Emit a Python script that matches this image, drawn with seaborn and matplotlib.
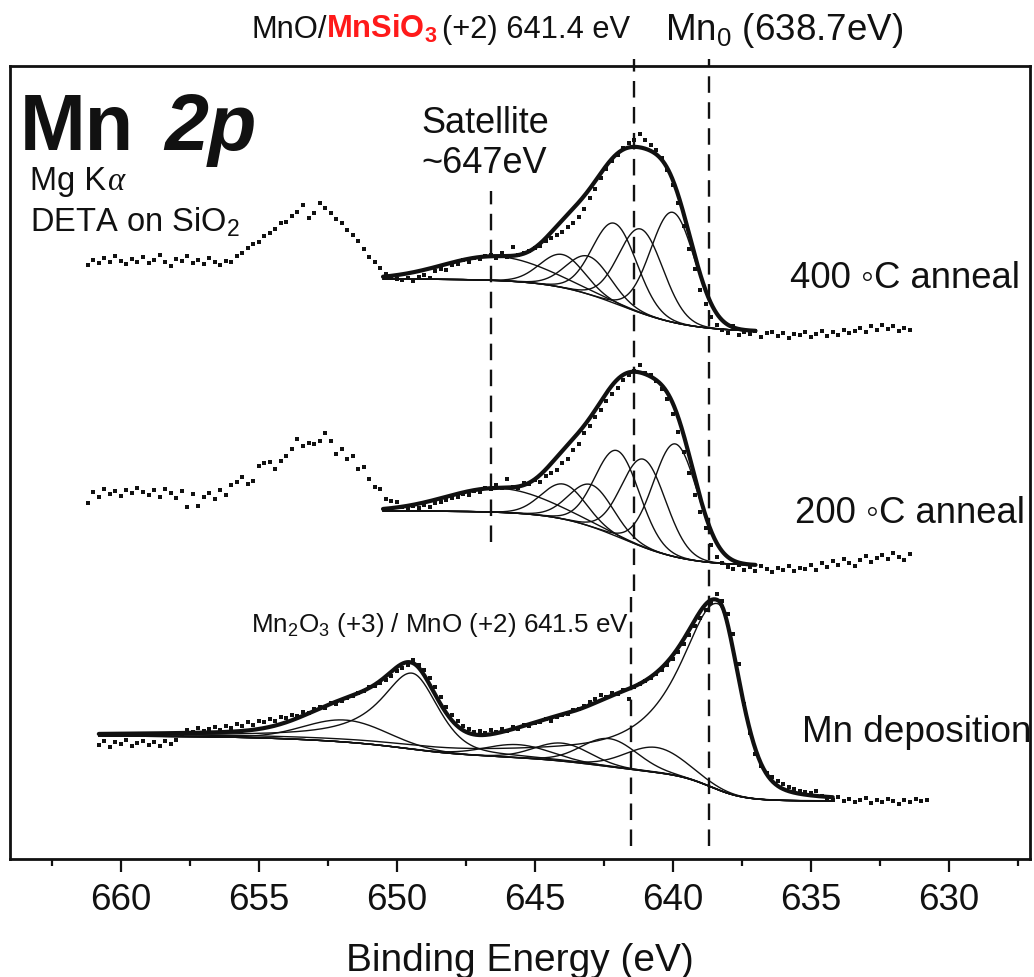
import numpy as np
import matplotlib
matplotlib.use("Agg")
import matplotlib.pyplot as plt
import seaborn as sns

# ------------------------------------------------------------------ spectra
# Mn 2p region, 0.2 eV channels, intensity in arbitrary units
# (each spectrum already includes its vertical stacking offset)
anneal_start = 661.2   # first channel of the annealed spectra (eV)
dep_start = 660.8      # first channel of the as-deposited spectrum (eV)
e_step = 0.2

counts_400C = [
    594, 599, 596, 601, 597, 603, 598, 595, 600, 597,
    602, 596, 599, 604, 597, 593, 600, 598, 603, 596,
    599, 595, 601, 597, 594, 598, 597, 603, 606, 611,
    615, 617, 623, 626, 630, 636, 637, 643, 647, 654,
    641, 646, 656, 651, 646, 640, 636, 629, 624, 618,
    610, 602, 597, 591, 585, 582, 580, 579, 581, 578,
    582, 584, 581, 588, 590, 589, 594, 595, 599, 597,
    601, 600, 603, 604, 601, 606, 602, 612, 604, 606,
    608, 611, 613, 618, 621, 624, 627, 632, 636, 642,
    650, 661, 670, 681, 690, 698, 704, 711, 716, 719,
    725, 719, 714, 709, 701, 689, 674, 656, 633, 610,
    590, 569, 555, 542, 534, 529, 526, 533, 524, 527,
    525, 528, 522, 526, 527, 523, 526, 521, 525, 524,
    527, 522, 525, 528, 523, 527, 524, 529, 526, 528,
    531, 527, 533, 529, 534, 530, 533, 528, 531, 529,
]

counts_200C = [
    356, 367, 362, 370, 365, 368, 363, 369, 366, 371,
    367, 364, 369, 362, 370, 366, 361, 368, 352, 365,
    353, 362, 366, 360, 369, 364, 374, 377, 382, 375,
    378, 393, 396, 397, 390, 398, 403, 410, 420, 413,
    416, 415, 418, 426, 418, 405, 410, 400, 403, 390,
    392, 380, 372, 370, 360, 358, 357, 352, 350, 353,
    351, 354, 352, 356, 357, 359, 361, 362, 365, 364,
    368, 367, 371, 370, 374, 371, 380, 372, 371, 376,
    375, 379, 377, 383, 386, 389, 396, 400, 409, 415,
    426, 433, 442, 449, 458, 465, 471, 479, 484, 488,
    494, 486, 484, 478, 470, 460, 445, 427, 407, 386,
    364, 347, 331, 314, 302, 296, 292, 290, 294, 289,
    292, 288, 293, 290, 287, 291, 289, 293, 288, 291,
    290, 294, 289, 296, 292, 298, 294, 300, 296, 293,
    299, 303, 297, 301, 304, 300, 306, 302, 299, 305,
]

counts_dep = [
    114, 118, 112, 117, 115, 119, 113, 116, 118, 114,
    117, 113, 118, 115, 119, 124, 129, 127, 131, 128,
    130, 132, 129, 133, 131, 135, 133, 137, 134, 138,
    137, 140, 138, 142, 141, 144, 143, 147, 146, 150,
    152, 151, 156, 155, 158, 161, 163, 166, 168, 172,
    173, 176, 179, 183, 188, 191, 194, 199, 194, 189,
    181, 172, 162, 152, 144, 138, 133, 130, 127, 128,
    126, 129, 127, 130, 128, 132, 130, 134, 133, 136,
    137, 140, 138, 142, 144, 145, 149, 150, 153, 157,
    160, 164, 162, 166, 165, 169, 160, 172, 175, 178,
    181, 185, 189, 194, 200, 207, 215, 224, 233, 241,
    249, 256, 265, 258, 245, 225, 195, 155, 126, 105,
    93, 86, 82, 78, 75, 72, 70, 68, 67, 66,
    68, 63, 61, 59, 62, 58, 60, 57, 59, 61,
    56, 59, 57, 60, 58, 55, 59, 57, 60, 58,
    59,
]

# ------------------------------------------------------------------ peak fits
# annealed films: broad satellite + five Mn(II) multiplet lines (Gaussian)
fit400_centre = [646.4, 644.0, 643.05, 642.1, 641.15, 640.0]
fit400_height = [24, 33, 38, 80, 84, 110]
fit400_sigma = [1.9, 0.8, 0.8, 0.8, 0.8, 0.8]
fit400_bg_floor = 527
fit400_bg_step = ([641.9], [53], [1.27])      # centre, height, width

fit200_centre = [646.3, 643.95, 642.95, 642.0, 641.05, 639.9]
fit200_height = [24, 35, 42, 86, 88, 113]
fit200_sigma = [1.9, 0.8, 0.8, 0.8, 0.8, 0.8]
fit200_bg_floor = 293
fit200_bg_step = ([641.85], [55], [1.2])

anneal_window = (650.5, 637.0)

# as deposited: asymmetric metallic 2p3/2 and 2p1/2 lines + oxide components
dep_metal_centre = [638.35, 649.45]
dep_metal_height = [186, 76]
dep_metal_gamma_hi = [1.7, 1.4]     # Lorentzian HWHM on the high-BE side
dep_metal_fwhm_lo = [1.85, 2.2]     # pseudo-Voigt FWHM on the low-BE side
dep_metal_eta_lo = [0.4, 0.4]
dep_oxide_centre = [651.85, 645.6, 644.0, 642.3, 640.6]
dep_oxide_height = [22, 13, 18, 28, 25]
dep_oxide_sigma = [1.5, 1.2, 1.0, 1.0, 1.1]
dep_bg_floor = 58
dep_bg_step = ([638.6, 642.5, 649.5, 652.0], [25, 20, 10, 10], [0.6, 1.5, 1.0, 2.0])
dep_window = (660.8, 634.2)

# reference binding energies (eV)
satellite_energy = 646.6
mn2_energy = 641.4
mn3_energy = 641.5
mn0_energy = 638.7


# ------------------------------------------------------------------ models
def step_background(E, floor, steps):
    bg = np.full_like(E, float(floor))
    for c, h, w in zip(*steps):
        bg += h / (1.0 + np.exp(-(E - c) / w))
    return bg


def gaussian(E, c, h, s):
    return h * np.exp(-0.5 * ((E - c) / s) ** 2)


def metal_line(E, c, h, g_hi, f_lo, eta):
    d = E - c
    hi = 1.0 / (1.0 + (d / g_hi) ** 2)
    lo = (1 - eta) * np.exp(-4 * np.log(2) * d ** 2 / f_lo ** 2) \
        + eta / (1.0 + 4 * d ** 2 / f_lo ** 2)
    return h * np.where(d >= 0, hi, lo)


# ------------------------------------------------------------------ style
sns.set_theme(style="white")
plt.rcParams["font.family"] = ["Liberation Sans", "DejaVu Sans"]
plt.rcParams["mathtext.fontset"] = "custom"
plt.rcParams["mathtext.rm"] = "Liberation Sans"
plt.rcParams["mathtext.it"] = "Liberation Sans:italic"
plt.rcParams["mathtext.bf"] = "Liberation Sans:bold"

W, H = 1034, 978
fig = plt.figure(figsize=(W / 100, H / 100), dpi=100)
fig.patch.set_facecolor("white")
ax = fig.add_axes([10 / W, (H - 860) / H, 1020 / W, 793 / H])
ax.set_facecolor("white")

INK = "#111111"


def draw_spectrum(energy, counts, grid, bg, comps):
    sns.scatterplot(x=energy, y=counts, ax=ax, marker="s", s=10, color=INK,
                    linewidth=0, legend=False, zorder=3)
    sns.lineplot(x=grid, y=bg, ax=ax, color=INK, lw=1.0, sort=False,
                 estimator=None, legend=False, zorder=4)
    for comp in comps:
        sns.lineplot(x=grid, y=bg + comp, ax=ax, color=INK, lw=1.0, sort=False,
                     estimator=None, legend=False, zorder=4)
    sns.lineplot(x=grid, y=bg + np.sum(comps, axis=0), ax=ax, color=INK, lw=3.0,
                 sort=False, estimator=None, legend=False, zorder=5)


# annealed spectra
e_anneal = anneal_start - e_step * np.arange(len(counts_400C))
g_anneal = np.linspace(anneal_window[0], anneal_window[1], 600)

for counts, cen, hgt, sig, floor, steps in [
    (counts_400C, fit400_centre, fit400_height, fit400_sigma, fit400_bg_floor, fit400_bg_step),
    (counts_200C, fit200_centre, fit200_height, fit200_sigma, fit200_bg_floor, fit200_bg_step),
]:
    bg = step_background(g_anneal, floor, steps)
    comps = [gaussian(g_anneal, c, h, s) for c, h, s in zip(cen, hgt, sig)]
    draw_spectrum(e_anneal, counts, g_anneal, bg, comps)

# as-deposited spectrum
e_dep = dep_start - e_step * np.arange(len(counts_dep))
g_dep = np.linspace(dep_window[0], dep_window[1], 900)
bg_dep = step_background(g_dep, dep_bg_floor, dep_bg_step)
comps_dep = [metal_line(g_dep, c, h, g, f, e) for c, h, g, f, e in
             zip(dep_metal_centre, dep_metal_height, dep_metal_gamma_hi,
                 dep_metal_fwhm_lo, dep_metal_eta_lo)]
comps_dep += [gaussian(g_dep, c, h, s) for c, h, s in
              zip(dep_oxide_centre, dep_oxide_height, dep_oxide_sigma)]
draw_spectrum(e_dep, counts_dep, g_dep, bg_dep, comps_dep)

# dashed reference lines
dash = dict(color=INK, lw=1.7, linestyles=[(0, (7, 4))], clip_on=False, zorder=6)
ax.vlines(satellite_energy, 317, 668, **dash)
ax.vlines(mn2_energy, 268, 800, **dash)
ax.vlines(mn3_energy, 13, 262, **dash)
ax.vlines(mn0_energy, 13, 800, **dash)

# ------------------------------------------------------------------ axes
ax.set_xlim(664.02, 627.05)
ax.set_ylim(0, 793)
ax.set_yticks([])
ax.set_xticks([660, 655, 650, 645, 640, 635, 630])
ax.set_xticks([662.5, 657.5, 652.5, 647.5, 642.5, 637.5, 632.5, 627.5], minor=True)
ax.tick_params(axis="x", which="major", direction="out", length=9.5, width=1.6,
               pad=7, labelsize=26.5, bottom=True, top=False, colors=INK)
ax.tick_params(axis="x", which="minor", direction="out", length=5, width=1.6,
               bottom=True, top=False, colors=INK)
for sp in ax.spines.values():
    sp.set_visible(True)
    sp.set_color(INK)
    sp.set_linewidth(2.0)
ax.set_ylabel("")
ax.set_xlabel("Binding Energy (eV)", fontsize=28, color=INK)
ax.xaxis.label.set_va("baseline")
ax.xaxis.set_label_coords(0.5, (860 - 971) / 793)


# ------------------------------------------------------------------ labels
def write_runs(x_px, y_px, runs, size):
    renderer = fig.canvas.get_renderer()
    x = x_px
    for text, props, gap in runs:
        x += gap
        t = fig.text(x / W, 1 - y_px / H, text, fontsize=size, va="baseline",
                     ha="left", color=props.pop("color", INK), **props)
        x += t.get_window_extent(renderer).width


write_runs(20, 150, [("Mn", dict(fontweight="bold"), 0),
                     ("2p", dict(fontweight="bold", fontstyle="italic"), 30)], 57)
write_runs(30, 190, [("Mg K", {}, 0),
                     ("α", dict(family="Liberation Serif", fontstyle="italic"), 1)], 23.5)
fig.text(30 / W, 1 - 232 / H, "DETA on SiO$_2$", fontsize=23.5, va="baseline",
         ha="left", color=INK)
fig.text(421 / W, 1 - 133 / H, "Satellite", fontsize=26, va="baseline",
         ha="left", color=INK)
fig.text(421 / W, 1 - 173 / H, "~647eV", fontsize=26, va="baseline",
         ha="left", color=INK)

write_runs(251, 38, [("MnO/", {}, 0),
                     (r"MnSiO$_\mathbf{3}$", dict(fontweight="bold", color="#ff1a1a"), 0),
                     ("(+2) 641.4 eV", {}, 4)], 22.2)
fig.text(665 / W, 1 - 40 / H, "Mn$_0$ (638.7eV)", fontsize=26.5, va="baseline",
         ha="left", color=INK)

anneal_font = ["Liberation Sans", "DejaVu Sans"]
fig.text(790 / W, 1 - 288 / H, "400 \u25e6C anneal", fontsize=26.3, va="baseline",
         ha="left", color=INK, family=anneal_font)
fig.text(795 / W, 1 - 523 / H, "200 \u25e6C anneal", fontsize=26.3, va="baseline",
         ha="left", color=INK, family=anneal_font)
fig.text(802 / W, 1 - 742 / H, "Mn deposition", fontsize=26.6, va="baseline",
         ha="left", color=INK)
fig.text(251 / W, 1 - 632 / H, "Mn$_2$O$_3$ (+3) / MnO (+2) 641.5 eV",
         fontsize=18.7, va="baseline", ha="left", color=INK)

fig.savefig("out.png", dpi=100, facecolor="white")
